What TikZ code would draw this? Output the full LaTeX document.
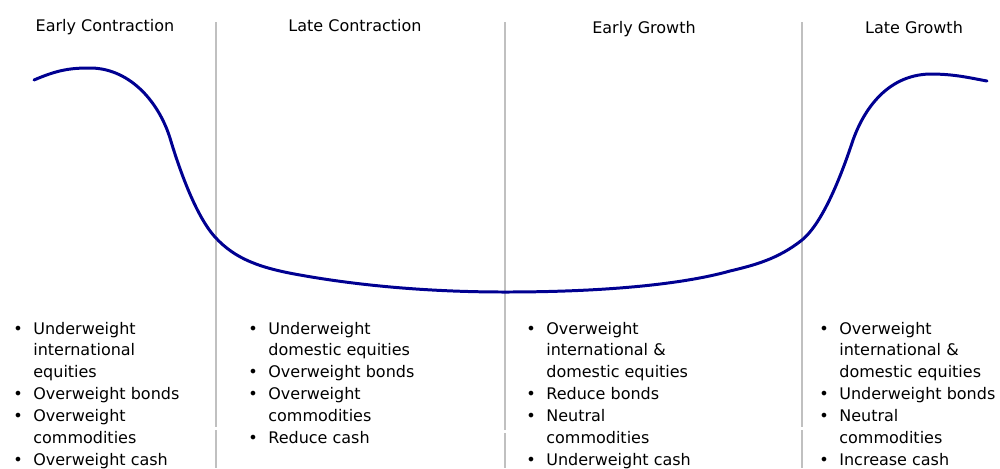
\documentclass[tikz,border=0pt]{standalone}
\usepackage{fontspec}
\setmainfont{DejaVu Sans}
\usepackage{tikz}
\usetikzlibrary{calc}

\definecolor{curveblue}{RGB}{0,0,145}
\definecolor{divgray}{RGB}{192,192,192}

\newcommand{\bul}{\makebox[11.4pt][l]{\textbullet}}
\newcommand{\ind}{\hspace*{11.4pt}}

\begin{document}
\begin{tikzpicture}[x=0.02cm, y=-0.02cm,
  phase/.style={anchor=base, inner sep=0pt, font=\fontsize{9.1}{12.5}\selectfont},
  advice/.style={anchor=base west, inner sep=0pt, font=\fontsize{9.1}{12.5}\selectfont},
  divider/.style={color=divgray, line width=1.1pt},
  cycle/.style={color=curveblue, line width=1.7pt, line cap=round}]
  \useasboundingbox (0,0) rectangle (1000,468);
% dividers between the phases
\foreach \x/\g in {216/427, 505/430, 802/427}
  {
  \draw[divider] (\x,22) -- (\x,\g);
  \draw[divider] (\x,\g+3) -- (\x,468);
  }
% the cycle
\draw[cycle] (34,80) .. controls (55,71) and (68,68) .. (88,68)
  .. controls (128,67) and (158,100) .. (170,138)
  .. controls (178,165) and (195,215) .. (215,237)
  .. controls (235,259) and (260,268) .. (300,275)
  .. controls (350,284) and (420,292) .. (505,292)
  .. controls (600,292) and (680,285) .. (730,271)
  .. controls (755,265) and (778,259) .. (802,240)
  .. controls (824,222) and (843,170) .. (852,143)
  .. controls (862,113) and (885,75) .. (930,74)
  .. controls (955,74) and (970,78) .. (987,81);
% phase names
      \node[phase] (earlycon) at (105,31) {Early Contraction};
      \node[phase] (latecon) at (355,31) {Late Contraction};
      \node[phase] (earlygro) at (644,33) {Early Growth};
      \node[phase] (lategro) at (914,33) {Late Growth};
% what to hold in each phase
\node[advice] (earlycon-list) at (13,334) {\begin{tabular}[t]{@{}l@{}}
  \bul Underweight\\ \ind international\\ \ind equities\\
  \bul Overweight bonds\\ \bul Overweight\\ \ind commodities\\
  \bul Overweight cash\end{tabular}};
\node[advice] (latecon-list) at (248,334) {\begin{tabular}[t]{@{}l@{}}
  \bul Underweight\\ \ind domestic equities\\
  \bul Overweight bonds\\ \bul Overweight\\ \ind commodities\\
  \bul Reduce cash\end{tabular}};
\node[advice] (earlygro-list) at (526,334) {\begin{tabular}[t]{@{}l@{}}
  \bul Overweight\\ \ind international \&\\ \ind domestic equities\\
  \bul Reduce bonds\\ \bul Neutral\\ \ind commodities\\
  \bul Underweight cash\end{tabular}};
\node[advice] (lategro-list) at (819,334) {\begin{tabular}[t]{@{}l@{}}
  \bul Overweight\\ \ind international \&\\ \ind domestic equities\\
  \bul Underweight bonds\\ \bul Neutral\\ \ind commodities\\
  \bul Increase cash\end{tabular}};
\end{tikzpicture}
\end{document}
